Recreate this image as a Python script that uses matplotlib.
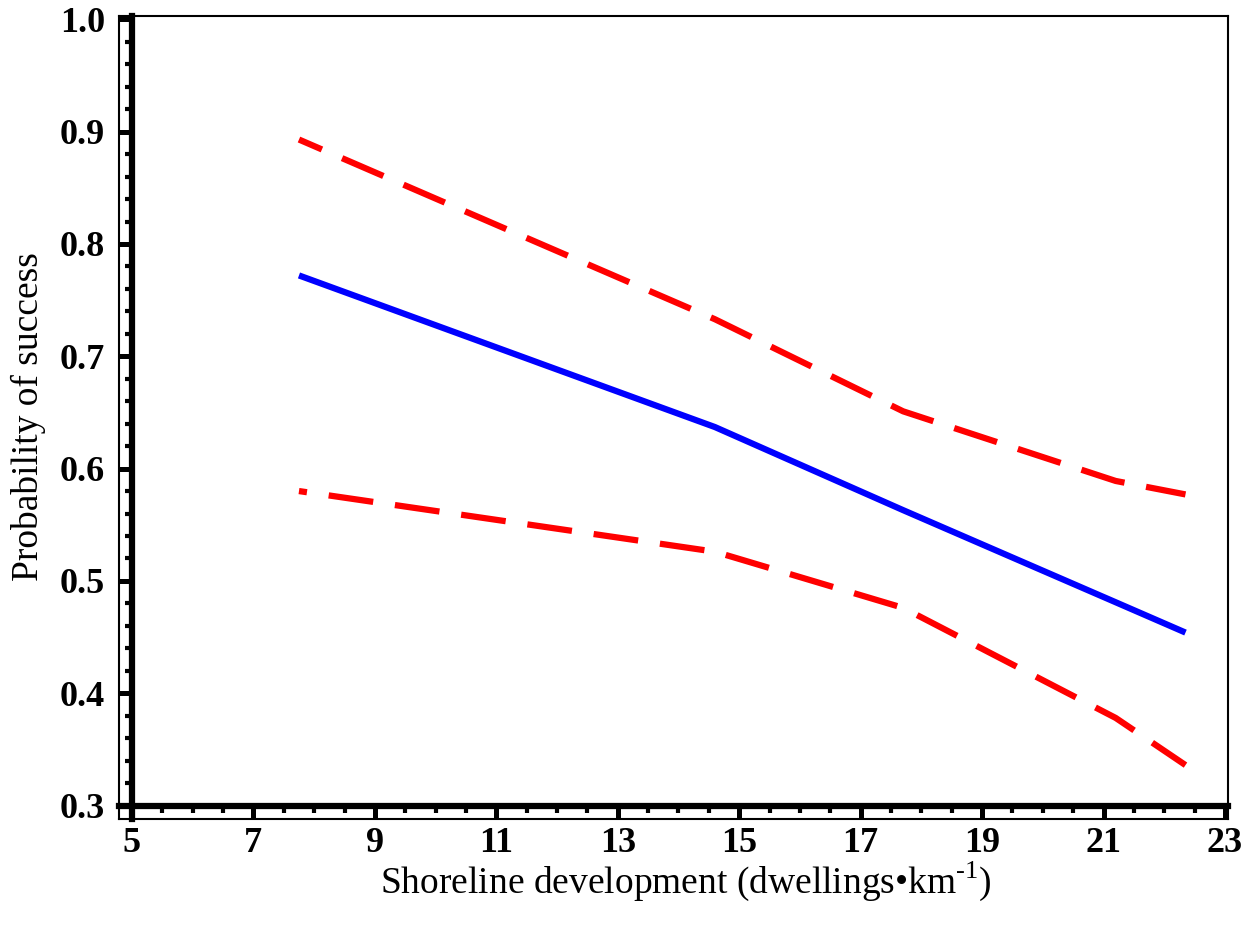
import matplotlib
matplotlib.use("Agg")
import matplotlib.pyplot as plt
from matplotlib.ticker import MultipleLocator, FormatStrFormatter

# values
development = [7.75, 14.6, 17.7, 21.2, 22.35]
prob_mean = [0.772, 0.637, 0.563, 0.481, 0.454]
prob_upper = [0.893, 0.733, 0.651, 0.589, 0.577]
prob_lower = [0.580, 0.526, 0.476, 0.378, 0.336]

x_ticks = list(range(5, 24, 2))
y_ticks = [0.3, 0.4, 0.5, 0.6, 0.7, 0.8, 0.9, 1.0]

plt.rcParams["font.family"] = ["Liberation Serif", "DejaVu Serif"]
plt.rcParams["mathtext.fontset"] = "custom"
plt.rcParams["mathtext.rm"] = "Liberation Serif"
plt.rcParams["lines.scale_dashes"] = False

fig = plt.figure(figsize=(12.51, 9.32), dpi=100)
rect = [119 / 1251, 1 - 819 / 932, (1228 - 119) / 1251, (819 - 16) / 932]

# thin outer frame
frame = fig.add_axes(rect, zorder=0)
frame.set_xticks([])
frame.set_yticks([])
for s in frame.spines.values():
    s.set_linewidth(1.5)

ax = fig.add_axes(rect, zorder=1)
ax.patch.set_visible(False)
ax.set_xlim(4.786, 23.05)
ax.set_ylim(0.288, 1.003)

ax.plot(development, prob_mean, color="#0000ff", lw=4.5, solid_capstyle="butt")
ax.plot(development, prob_upper, color="#ff0000", lw=4.5,
        linestyle=(14.4, (32.4, 15.8)))
ax.plot(development, prob_lower, color="#ff0000", lw=4.5,
        linestyle=(26.6, (32.4, 15.8)))

ax.spines["top"].set_visible(False)
ax.spines["right"].set_visible(False)
ax.spines["left"].set_position(("data", 5))
ax.spines["bottom"].set_position(("data", 0.3))
ax.spines["left"].set_linewidth(4.5)
ax.spines["bottom"].set_linewidth(4.5)

ax.set_xticks(x_ticks)
ax.set_yticks(y_ticks)
ax.xaxis.set_minor_locator(MultipleLocator(0.5))
ax.yaxis.set_minor_locator(MultipleLocator(0.02))
ax.yaxis.set_major_formatter(FormatStrFormatter("%.1f"))

ax.tick_params(which="major", direction="out", length=9.4, width=3.6)
ax.tick_params(which="minor", direction="out", length=5.2, width=3.0)
ax.tick_params(axis="y", which="major", pad=10)
ax.tick_params(axis="x", which="major", pad=6)
for lab in ax.get_xticklabels() + ax.get_yticklabels():
    lab.set_fontsize(26)
    lab.set_fontweight("bold")

fig.text(686 / 1251, 1 - 881 / 932,
         "Shoreline development (dwellings•km$^{\\mathregular{\u20101}}$)",
         fontsize=27, ha="center", va="center")
fig.text(28 / 1251, 1 - 417 / 932, "Probability of success",
         fontsize=27, ha="center", va="center", rotation=90)

fig.savefig("out.png", dpi=100)
